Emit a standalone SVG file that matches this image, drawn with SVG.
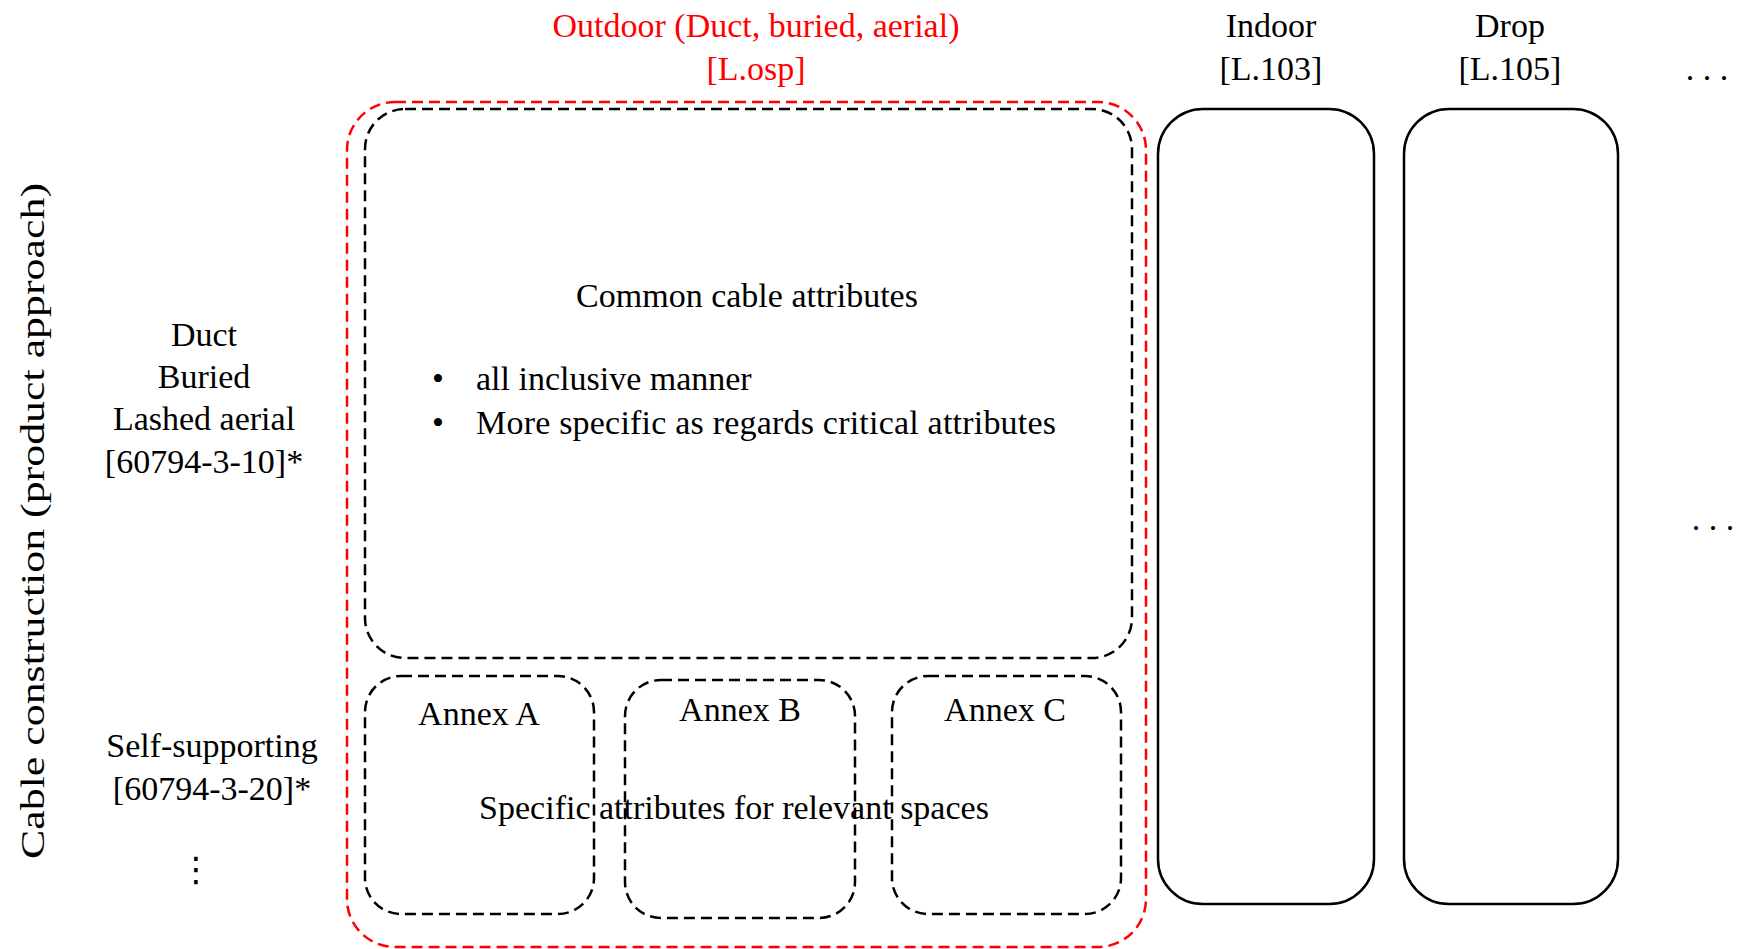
<svg xmlns="http://www.w3.org/2000/svg" width="1744" height="949" viewBox="0 0 1744 949">
<style>
text{font-family:"Liberation Serif","Times New Roman",serif;font-size:34px;fill:#000}
.c{text-anchor:middle}
.red{fill:#FF0000}
.dr{fill:none;stroke:#FF0000;stroke-width:2.5;stroke-dasharray:11 6}
.db{fill:none;stroke:#000;stroke-width:2.5;stroke-dasharray:11 6}
.sb{fill:none;stroke:#000;stroke-width:2.5}
</style>
<rect width="1744" height="949" fill="#fff"/>
<g id="axis-label">
<text class="c" transform="translate(44,521) rotate(-90)" font-size="46" textLength="676" lengthAdjust="spacingAndGlyphs">Cable construction (product  approach)</text>
</g>
<g id="left-labels">
<text class="c" x="204" y="346">Duct</text>
<text class="c" x="204" y="388">Buried</text>
<text class="c" x="204" y="430">Lashed aerial</text>
<text class="c" x="204" y="473">[60794-3-10]*</text>
<text class="c" x="212" y="757">Self-supporting</text>
<text class="c" x="212" y="800">[60794-3-20]*</text>
<text class="c" x="196" y="881" style="font-family:'DejaVu Sans',sans-serif" font-size="46">⋮</text>
</g>
<g id="outdoor">
<text class="c red" x="756" y="37">Outdoor (Duct, buried, aerial)</text>
<text class="c red" x="756" y="80">[L.osp]</text>
<rect class="dr" x="347" y="102" width="799" height="845" rx="48" ry="48"/>
</g>
<g id="common">
<rect class="db" x="365" y="109" width="767" height="549" rx="40" ry="40"/>
<text class="c" x="747" y="307">Common cable attributes</text>
<text x="432" y="390">•</text>
<text x="476" y="390">all inclusive manner</text>
<text x="432" y="434">•</text>
<text x="476" y="434" textLength="580" lengthAdjust="spacing">More specific as regards critical attributes</text>
</g>
<g id="annex-a">
<rect class="db" x="365" y="676" width="229" height="238" rx="36" ry="36"/>
<text class="c" x="479" y="725">Annex A</text>
</g>
<g id="annex-b">
<rect class="db" x="625" y="680" width="230" height="238" rx="36" ry="36"/>
<text class="c" x="740" y="721">Annex B</text>
</g>
<g id="annex-c">
<rect class="db" x="892" y="676" width="229" height="238" rx="36" ry="36"/>
<text class="c" x="1005" y="721">Annex C</text>
</g>
<g id="specific">
<text class="c" x="734" y="819">Specific attributes for relevant spaces</text>
</g>
<g id="indoor">
<text class="c" x="1271" y="37">Indoor</text>
<text class="c" x="1271" y="80">[L.103]</text>
<rect class="sb" x="1158" y="109" width="216" height="795" rx="45" ry="45"/>
</g>
<g id="drop">
<text class="c" x="1510" y="37">Drop</text>
<text class="c" x="1510" y="80">[L.105]</text>
<rect class="sb" x="1404" y="109" width="214" height="795" rx="45" ry="45"/>
</g>
<g id="more">
<text class="c" x="1707" y="80">. . .</text>
<text class="c" x="1713" y="530">. . .</text>
</g>
<g id="connectors"></g>
</svg>
